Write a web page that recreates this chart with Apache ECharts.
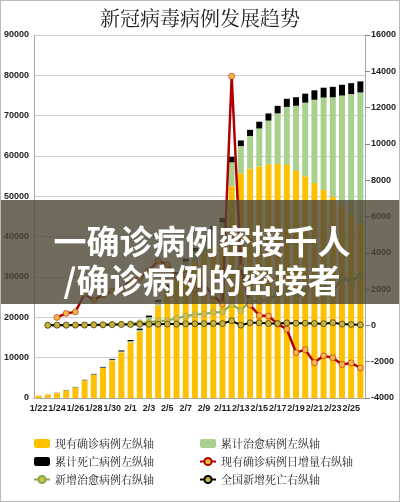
<!DOCTYPE html>
<html><head><meta charset="utf-8">
<script src="https://cdn.jsdelivr.net/npm/echarts@6/dist/echarts.min.js"></script>
<style>html,body{margin:0;padding:0;background:#fff}#c{width:398px;height:500px;border:1px solid #bbb}</style>
</head><body><div id="c"></div>
<script>
var dates=['1/22','1/23','1/24','1/25','1/26','1/27','1/28','1/29','1/30','1/31','2/1','2/2','2/3','2/4','2/5','2/6','2/7','2/8','2/9','2/10','2/11','2/12','2/13','2/14','2/15','2/16','2/17','2/18','2/19','2/20','2/21','2/22','2/23','2/24','2/25','2/26'];
var existing=[526,771,1208,1870,2613,4349,5739,7417,9308,11289,13748,16369,19381,22942,26302,28985,31774,33738,35982,37626,38800,52526,55748,56873,57416,57934,58016,57805,56303,54965,53284,51606,49824,47672,45604,43258];
var cured=[28,34,38,49,51,60,103,124,171,243,328,475,632,892,1153,1540,2050,2649,3281,3996,4740,5911,6723,8096,9419,10844,12552,14376,16155,18264,20659,22888,24734,27323,29745,32495];
var deaths=[17,25,41,56,80,106,132,170,213,259,304,361,425,490,563,636,722,811,908,1016,1113,1367,1380,1523,1665,1770,1868,2004,2118,2236,2345,2442,2592,2663,2715,2744];
var existingDelta=[null,null,437,662,743,1736,1390,1678,1891,1981,2459,2621,3012,3561,3360,2683,2789,1964,2244,1644,1174,13726,3222,1125,543,518,82,-211,-1502,-1338,-2050,-1678,-1782,-2152,-2068,-2346];
var newCured=[null,6,4,11,2,9,43,21,47,72,85,147,157,260,261,387,510,599,632,715,744,1171,812,1373,1323,1425,1708,1824,1779,2109,2395,2229,1846,2589,2422,2750];
var newDeaths=[null,8,16,15,24,26,26,38,43,46,45,57,64,65,73,73,86,89,97,108,97,254,13,143,142,105,98,136,114,118,109,97,150,71,52,29];
var chart=echarts.init(document.getElementById('c'));
var lbl={color:'#222',fontSize:9,fontWeight:'bold',fontFamily:'Arial'};
var legText={fontSize:11,color:'#222',fontFamily:'Noto Serif CJK SC, Noto Sans CJK SC'};
function plain(v){return String(v);}
function lineS(name,data,color,dot,w){return {name:name,type:'line',yAxisIndex:1,data:data,symbol:'circle',symbolSize:6,
 lineStyle:{color:color,width:w},itemStyle:{color:dot,borderColor:color,borderWidth:0.5},z:5};}
chart.setOption({
 animation:false,
 title:{text:'新冠病毒病例发展趋势',left:'center',top:2,textStyle:{fontSize:20,fontWeight:'normal',color:'#222',fontFamily:'Noto Serif CJK SC, Noto Sans CJK SC'}},
 grid:{left:33,right:32,top:34,bottom:103},
 legend:[
  {orient:'vertical',left:27,top:432,itemGap:7,itemWidth:16,itemHeight:9,textStyle:legText,data:['现有确诊病例左纵轴','累计死亡病例左纵轴','新增治愈病例右纵轴']},
  {orient:'vertical',left:193,top:432,itemGap:7,itemWidth:16,itemHeight:9,textStyle:legText,data:['累计治愈病例左纵轴','现有确诊病例日增量右纵轴','全国新增死亡右纵轴']}
 ],
 xAxis:{type:'category',data:dates,axisLabel:Object.assign({interval:1,margin:6},lbl),axisTick:{show:false},axisLine:{lineStyle:{color:'#aaa'}}},
 yAxis:[
  {type:'value',min:0,max:90000,interval:10000,axisLabel:Object.assign({margin:5,formatter:plain},lbl),splitLine:{lineStyle:{color:'#d0d0d0'}},axisLine:{show:true,lineStyle:{color:'#aaa'}}},
  {type:'value',min:-4000,max:16000,interval:2000,axisLabel:Object.assign({margin:6,formatter:plain},lbl),splitLine:{show:false},axisTick:{show:true,lineStyle:{color:'#888'}},axisLine:{show:true,lineStyle:{color:'#aaa'}}}
 ],
 series:[
  {name:'现有确诊病例左纵轴',type:'bar',stack:'a',data:existing,barWidth:'65%',itemStyle:{color:'#FFC000'}},
  {name:'累计治愈病例左纵轴',type:'bar',stack:'a',data:cured,itemStyle:{color:'#A9D18E'}},
  {name:'累计死亡病例左纵轴',type:'bar',stack:'a',data:deaths,itemStyle:{color:'#000'}},
  lineS('现有确诊病例日增量右纵轴',existingDelta,'#B00000','#F2B744',2.5),
  lineS('新增治愈病例右纵轴',newCured,'#7EA84A','#D9B84A',2),
  lineS('全国新增死亡右纵轴',newDeaths,'#000','#C9B23A',2)
 ],
 graphic:[
  {type:'rect',shape:{x:0,y:199,width:400,height:104},style:{fill:'rgba(78,70,52,0.8)'},z:100},
  {type:'text',x:201,y:240,style:{text:'一确诊病例密接千人',fill:'#fff',fontSize:33,fontWeight:'bold',fontFamily:'Noto Sans CJK SC',align:'center',verticalAlign:'middle',shadowColor:'rgba(0,0,0,0.6)',shadowBlur:3},z:101},
  {type:'text',x:201,y:279,style:{text:'/确诊病例的密接者',fill:'#fff',fontSize:33,fontWeight:'bold',fontFamily:'Noto Sans CJK SC',align:'center',verticalAlign:'middle',shadowColor:'rgba(0,0,0,0.6)',shadowBlur:3},z:101}
 ]
});
</script></body></html>
